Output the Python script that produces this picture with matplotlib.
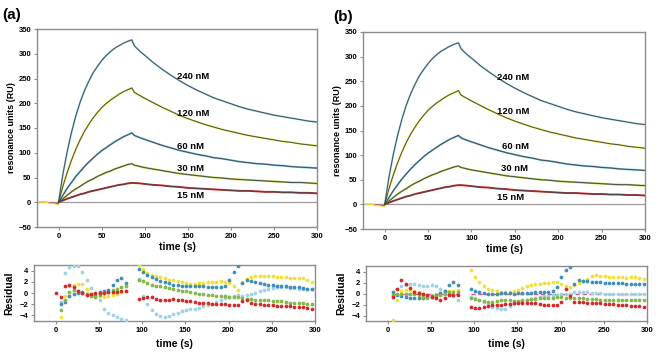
import numpy as np
import matplotlib
matplotlib.use("Agg")
import matplotlib.pyplot as plt

plt.rcParams['font.family'] = ['Liberation Sans', 'DejaVu Sans']
plt.rcParams['font.weight'] = 'bold'
plt.rcParams['axes.labelweight'] = 'bold'

# ---- sensorgram data (RU) ----
concentrations = ['240 nM', '120 nM', '60 nM', '30 nM', '15 nM']
curve_t = [0, 5, 10, 15, 20, 25, 30, 35, 40, 45, 50, 55, 60, 65, 70, 75, 80, 85,
           88, 95, 100, 110, 120, 130, 140, 150, 160, 170, 180, 190, 200,
           210, 220, 230, 240, 250, 260, 270, 280, 290, 300]
fit_240 = [0, 56, 102, 141, 174, 202, 225, 244, 261, 274, 286, 296, 304, 311, 316, 321, 325, 328,
           316, 304, 297, 282, 269, 257, 246, 236, 227, 219, 211, 205, 199,
           193, 188, 184, 180, 176, 173, 170, 167, 164, 162]
fit_120 = [0, 32, 60, 85, 107, 126, 143, 157, 170, 181, 191, 199, 206, 212, 218, 223, 227, 231,
           222, 215, 210, 201, 192, 184, 176, 169, 163, 157, 152, 147, 143,
           139, 135, 132, 129, 126, 123, 121, 118, 116, 114]
fit_60 = [0, 14, 28, 40, 52, 62, 72, 81, 89, 97, 104, 110, 116, 122, 127, 132, 136, 140,
          135, 130, 127, 121, 115, 110, 105, 101, 97, 94, 90, 88, 85,
          82, 80, 78, 77, 75, 74, 72, 71, 70, 69]
fit_30 = [0, 7, 14, 21, 27, 32, 38, 43, 47, 52, 56, 60, 63, 67, 70, 73, 76, 78,
          75, 72, 70, 67, 64, 61, 58, 56, 54, 52, 50, 49, 47,
          46, 45, 44, 43, 42, 41, 40, 40, 39, 38]
fit_15 = [0, 3.5, 7, 10, 13, 16, 18, 21, 23, 25, 27, 29, 31, 33, 35, 36, 38, 39,
          39, 38, 37, 35, 34, 32, 31, 29, 28, 27, 26, 25, 24,
          23, 23, 22, 21, 21, 20, 20, 19, 19, 18]
pre_t = [-22, -15, -10, -5, 0]
pre_base = [0, 0, -1, -2, -3]
pre_dip = [0, 0, -2, -3, -5]

# ---- residuals ----
res_t_assoc = [1, 6, 11, 16, 21, 26, 31, 36, 41, 46, 51, 56, 61, 66, 71, 76, 81]
res_t_diss = list(range(96, 297, 5))
nan = np.nan

a_lblue_as = [nan, -1.6, 3.5, 4.6, 4.9, 4.8, 3.8, 2.4, 0.9, -0.1, -1.2, -2.8, -3.5, -4.0, -4.3, -4.6, -4.9]
a_teal_as = [nan, -1.9, -1.6, -0.6, -0.2, 0.0, 0.1, -0.1, -0.3, -0.5, 0.1, 0.3, 0.5, 1.5, 2.3, 2.6, 1.8]
a_yellow_as = [nan, -4.3, -0.5, 1.2, 1.5, 1.6, 1.6, 0.8, -0.1, -0.3, -0.5, -0.7, -0.5, -0.3, -0.1, 0.1, 0.3]
a_green_as = [nan, -3.1, -1.3, 0.1, 0.5, 0.4, 0.0, -0.2, -0.5, -0.8, -0.3, 0.0, 0.2, 0.5, 0.8, 1.1, 1.3]
a_red_as = [0.0, -0.7, 1.3, 1.5, 1.0, 0.3, 0.0, -0.3, -0.2, 0.0, 0.0, 0.0, 0.1, 0.2, 0.2, 0.3, 0.3]

a_lblue_di = [2.5, -0.5, -2.0, -3.0, -3.7, -4.1, -4.3, -4.1, -3.8, -3.5,
              -3.2, -3.0, -2.9, -2.8, -2.6, -2.4, -2.2, -1.9, -1.6, -1.2,
              -0.9, -0.7, -0.5, -0.4, -0.6, -0.4, -0.2, 0.0, 0.3, 0.5,
              0.7, 0.9, 1.0, 1.1, 1.0, 0.9, 0.9, 0.8, 0.8, 0.7, 0.7]
a_teal_di = [4.2, 3.8, 3.3, 2.9, 2.5, 2.2, 1.9, 1.7, 1.5, 1.4,
             1.3, 1.3, 1.2, 1.2, 1.2, 1.2, 1.1, 1.1, 1.1, 1.0,
             1.3, 2.4, 3.8, 4.9, 1.8, 2.3, 2.1, 1.9, 1.7, 1.6,
             1.5, 1.4, 1.3, 1.3, 1.2, 1.1, 1.0, 1.0, 0.9, 0.8, 0.8]
a_yellow_di = [5.0, 4.2, 3.6, 3.2, 3.0, 2.8, 2.6, 2.4, 2.3, 2.1,
               1.9, 1.7, 1.6, 1.6, 1.7, 1.8, 1.9, 2.0, 2.0, 2.1,
               2.0, 1.8, 1.2, 0.6, 2.0, 2.5, 2.8, 3.0, 3.1, 3.1,
               3.0, 3.0, 2.9, 2.9, 2.8, 2.7, 2.6, 2.6, 2.6, 2.4, 2.0]
a_green_di = [2.4, 2.1, 1.7, 1.5, 1.3, 1.2, 1.0, 0.9, 0.7, 0.5,
              0.4, 0.3, 0.1, 0.0, -0.1, -0.2, -0.3, -0.4, -0.5, -0.6,
              -0.6, -0.7, -0.8, -0.8, -0.9, -1.0, -1.1, -1.2, -1.2, -1.3,
              -1.3, -1.4, -1.5, -1.5, -1.6, -1.7, -1.7, -1.8, -1.8, -1.9, -1.9]
a_red_di = [-1.0, -0.9, -0.8, -0.8, -1.0, -1.2, -1.3, -1.2, -1.1, -1.2,
            -1.3, -1.4, -1.5, -1.6, -1.7, -1.8, -1.8, -1.9, -1.9, -1.9,
            -2.0, -2.1, -2.2, -2.2, -1.4, -1.3, -1.7, -1.9, -2.0, -2.1,
            -2.2, -2.2, -2.3, -2.3, -2.4, -2.4, -2.5, -2.5, -2.5, -2.7, -2.8]

b_lblue_as = [nan, -0.6, 0.9, 1.3, 1.6, 1.8, 1.8, 1.6, 1.4, 1.3, 1.6, 1.3, 0.8, 0.4, 0.0, -0.5, -1.2]
b_teal_as = [nan, 0.3, -0.3, -0.5, -0.6, -0.8, -0.9, -0.9, -0.8, -0.7, -0.5, -0.3, 0.1, 0.5, 1.5, 2.1, 1.5]
b_yellow_as = [nan, -4.8, -1.2, 0.4, 0.6, 0.7, 0.5, 0.3, 0.0, -0.3, -0.2, 0.0, 0.1, 0.3, 0.4, 0.5, 0.6]
b_green_as = [nan, -0.3, 0.0, 0.0, 0.0, 0.0, -0.1, -0.3, -0.6, -0.9, -0.7, -0.5, -0.2, 0.0, 0.2, 0.3, 0.3]
b_red_as = [nan, -0.6, 0.9, 2.4, 1.8, 1.0, 0.3, 0.1, 0.0, -0.2, -0.6, -0.9, -1.2, -0.8, -0.3, -0.3, -0.3]

b_lblue_di = [-0.6, -0.8, -1.1, -1.6, -2.0, -2.4, -2.7, -2.9, -2.8, -2.3,
              -1.9, -1.6, -1.4, -1.2, -1.0, -0.8, -0.6, -0.5, -0.4, -0.3,
              -0.2, -0.1, 0.0, 0.0, 0.2, 0.3, 0.3, 0.2, 0.1, 0.1,
              0.1, 0.0, 0.0, 0.0, 0.0, -0.1, -0.1, -0.1, -0.1, -0.1, -0.1]
b_teal_di = [0.9, 0.5, 0.3, 0.1, 0.0, 0.0, 0.0, 0.1, 0.1, 0.1,
             0.0, 0.1, 0.1, 0.1, 0.1, 0.2, 0.2, 0.2, 0.3, 0.5,
             1.2, 3.0, 4.2, 4.9, 1.8, 2.4, 2.3, 2.2, 2.1, 2.1,
             2.1, 2.0, 2.0, 2.0, 1.9, 1.9, 1.8, 1.8, 1.8, 1.7, 1.7]
b_yellow_di = [4.2, 3.0, 2.1, 1.4, 0.9, 0.6, 0.4, 0.3, 0.2, 0.3,
               0.5, 0.7, 1.0, 1.3, 1.5, 1.7, 1.8, 1.9, 2.0, 2.1,
               2.1, 1.8, 1.3, 1.2, 1.6, 1.9, 2.3, 2.7, 3.1, 3.3,
               3.2, 3.1, 3.0, 3.0, 3.0, 3.0, 2.9, 3.0, 3.0, 2.9, 2.7]
b_green_di = [-0.9, -1.0, -1.2, -1.4, -1.5, -1.5, -1.4, -1.2, -1.1, -1.2,
              -1.3, -1.3, -1.2, -1.1, -1.0, -1.0, -0.9, -0.9, -0.8, -0.8,
              -0.7, -0.7, -0.8, -0.8, -0.9, -0.9, -0.9, -1.0, -1.0, -1.0,
              -1.1, -1.1, -1.1, -1.2, -1.2, -1.2, -1.2, -1.2, -1.2, -1.2, -1.2]
b_red_di = [-2.4, -2.7, -2.6, -2.4, -2.2, -2.1, -2.0, -2.0, -1.9, -1.9,
            -1.8, -1.8, -1.7, -1.7, -1.7, -1.8, -1.9, -2.0, -2.1, -2.1,
            -2.0, -1.5, 0.9, -0.5, -1.5, -1.5, -1.6, -1.7, -1.8, -1.8,
            -1.8, -1.9, -1.9, -1.9, -2.0, -2.1, -2.1, -2.2, -2.2, -2.3, -2.4]

# colours
C_LBLUE = '#9fd2e4'
C_YELLOW = '#f0e03c'
C_TEAL = '#3f8fb8'
C_GREEN = '#84b84a'
C_RED = '#d22a2a'
C_FIT = '#3b4852'
C_SPINE = '#8c8c8c'

fits = [fit_240, fit_120, fit_60, fit_30, fit_15]
data_cols = [C_LBLUE, C_YELLOW, '#7ab8d6', '#b8c83a', C_RED]


def style_axes(ax):
    for s in ax.spines.values():
        s.set_color(C_SPINE)
        s.set_linewidth(1.0)
    ax.tick_params(direction='out', length=2.5, width=0.8, color=C_SPINE,
                   labelsize=5.5, pad=1.5)
    for lab in ax.get_xticklabels() + ax.get_yticklabels():
        lab.set_fontweight('bold')


def draw_sensorgram(ax, label_pos):
    ax.axhline(0, color='#9a9a9a', lw=0.9, zorder=1)
    ax.plot(pre_t, pre_base, color=C_RED, lw=0.8, zorder=2)
    ax.plot(pre_t, pre_dip, color=C_YELLOW, lw=0.8, zorder=2)
    for vals, col in zip(fits, data_cols):
        ax.plot(curve_t, vals, color=col, lw=1.4, solid_capstyle='round', zorder=3)
        ax.plot(curve_t, vals, color=C_FIT, lw=0.65, zorder=4)
    for name, (tx, ty) in zip(concentrations, label_pos):
        ax.text(tx, ty, name, fontsize=6.8, fontweight='bold', ha='left', va='center', zorder=5)
    ax.set_xlim(-25, 300)
    ax.set_ylim(-50, 350)
    ax.set_xticks(range(0, 301, 50))
    ax.set_yticks(range(-50, 351, 50))
    ax.set_xlabel('time (s)', fontsize=7.5, labelpad=2)
    ax.set_ylabel('resonance units (RU)', fontsize=6.5, labelpad=2)
    style_axes(ax)


def draw_residuals(ax, series, zero_line=False):
    if zero_line:
        ax.plot(res_t_assoc[1:], np.zeros(len(res_t_assoc) - 1), color='#d24f9f', lw=1.0, ls=(0, (3, 2)), zorder=2)
        ax.plot(res_t_diss, np.zeros(len(res_t_diss)), color='#d24f9f', lw=1.0, ls=(0, (3, 2)), zorder=2)
    for (as_vals, di_vals), col in series:
        ax.plot(res_t_assoc, as_vals, 'o', color=col, ms=2.7, mec='none', zorder=3)
        ax.plot(res_t_diss, di_vals, 'o', color=col, ms=2.7, mec='none', zorder=3)
    ax.set_xlim(-25, 300)
    ax.set_ylim(-5, 5)
    ax.set_xticks(range(0, 301, 50))
    ax.set_yticks([-4, -2, 0, 2, 4])
    ax.set_xlabel('time (s)', fontsize=7.5, labelpad=4)
    ax.set_ylabel('Residual', fontsize=7.5, labelpad=4)
    style_axes(ax)


W, H = 656, 352
fig = plt.figure(figsize=(W / 100, H / 100), dpi=100)


def px_axes(left, top, right, bottom):
    return fig.add_axes([left / W, 1 - bottom / H, (right - left) / W, (bottom - top) / H])


ax_a = px_axes(37, 29, 317, 227)
ax_b = px_axes(363, 32, 645, 229)
ax_ra = px_axes(34, 265, 315, 321)
ax_rb = px_axes(366, 266, 647, 321)

draw_sensorgram(ax_a, [(138, 254), (138, 179), (138, 112), (138, 68), (138, 14)])
draw_sensorgram(ax_b, [(130, 257), (129, 189), (135, 118), (134, 72), (129, 14)])

draw_residuals(ax_ra, [((a_lblue_as, a_lblue_di), C_LBLUE),
                       ((a_yellow_as, a_yellow_di), C_YELLOW),
                       ((a_teal_as, a_teal_di), C_TEAL),
                       ((a_green_as, a_green_di), C_GREEN),
                       ((a_red_as, a_red_di), C_RED)])
draw_residuals(ax_rb, [((b_lblue_as, b_lblue_di), C_LBLUE),
                       ((b_yellow_as, b_yellow_di), C_YELLOW),
                       ((b_teal_as, b_teal_di), C_TEAL),
                       ((b_green_as, b_green_di), C_GREEN),
                       ((b_red_as, b_red_di), C_RED)], zero_line=True)

fig.text(2 / W, 1 - 15 / H, '(a)', fontsize=11, fontweight='bold', va='center', ha='left')
fig.text(333 / W, 1 - 17 / H, '(b)', fontsize=11, fontweight='bold', va='center', ha='left')

fig.savefig('out.png', dpi=100)
